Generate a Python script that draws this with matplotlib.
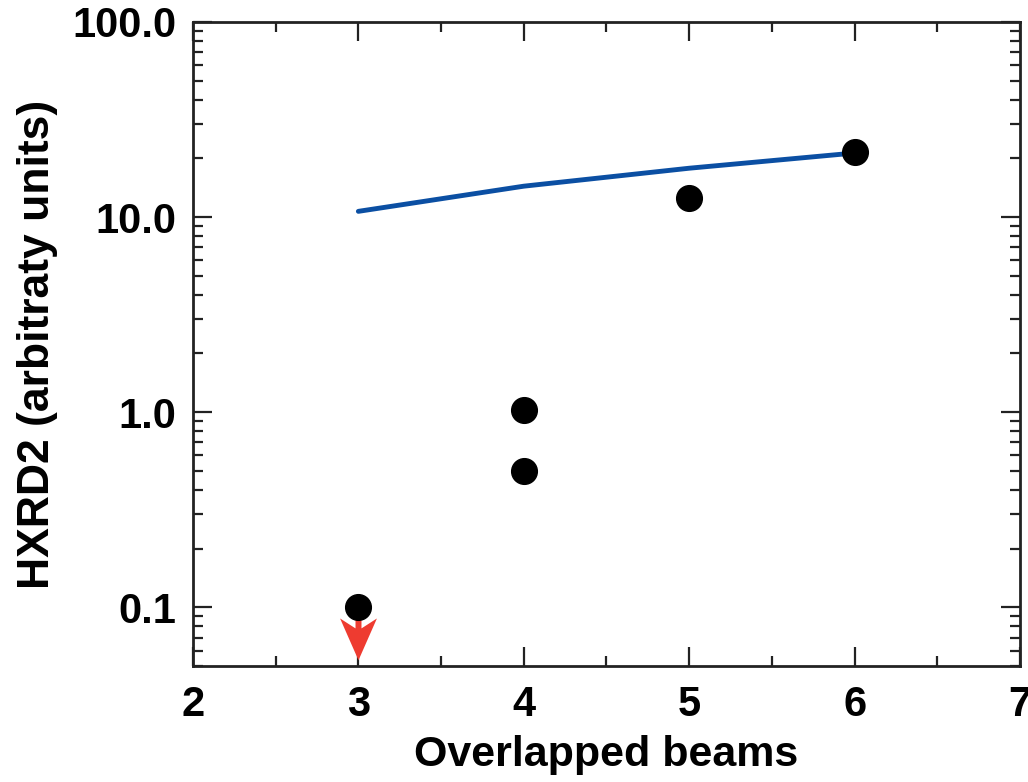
import numpy as np
import matplotlib
matplotlib.use('Agg')
import matplotlib.pyplot as plt
from matplotlib.path import Path
from matplotlib.ticker import LogLocator, FixedLocator, NullFormatter
from matplotlib import font_manager

names = {f.name for f in font_manager.fontManager.ttflist}
fam = 'Liberation Sans Narrow' if 'Liberation Sans Narrow' in names else 'Liberation Sans'
plt.rcParams['font.family'] = [fam, 'DejaVu Sans']
plt.rcParams['font.weight'] = 'bold'
fs = 36 if fam == 'Liberation Sans Narrow' else 30

# measured points
beams = [3, 4, 4, 5, 6]
hxrd2 = [0.1, 1.03, 0.5, 12.5, 21.5]

# model curve
model_beams = [3, 4, 5, 6]
model_hxrd2 = [10.7, 14.4, 17.8, 21.3]

# upper limit
limit_beams = [3]
limit_hxrd2 = [0.1]

# barbed down-arrow marker, origin at the top of the shaft
arrow = Path([(-3, 0), (3, 0), (3, -21), (18.5, -11), (0, -53),
              (-18.5, -11), (-3, -21), (-3, 0)],
             [Path.MOVETO] + [Path.LINETO] * 6 + [Path.CLOSEPOLY])

fig = plt.figure(figsize=(10.28, 7.82), dpi=100)
ax = fig.add_axes([0.1877, 0.1483, 0.8045, 0.8236])

ax.plot(model_beams, model_hxrd2, color='#0b4fa3', lw=3.5, solid_capstyle='round', zorder=2)
ax.plot(limit_beams, limit_hxrd2, linestyle='none', marker=arrow, markersize=76,
        color='#ee3b30', markeredgewidth=0, zorder=3)
ax.plot(beams, hxrd2, 'o', color='black', markersize=18.5, zorder=4)

ax.set_yscale('log')
ax.set_xlim(2, 7)
ax.set_ylim(0.05, 100)

ax.set_xticks([2, 3, 4, 5, 6, 7])
ax.xaxis.set_minor_locator(FixedLocator(np.arange(2.5, 7, 1.0)))
ax.yaxis.set_major_locator(FixedLocator([0.1, 1, 10, 100]))
ax.yaxis.set_minor_locator(LogLocator(base=10, subs=np.arange(2, 10)))
ax.yaxis.set_minor_formatter(NullFormatter())
ax.set_yticklabels(['0.1', '1.0', '10.0', '100.0'])

ax.tick_params(which='both', direction='in', top=True, right=True,
               color='#222222', labelsize=fs)
ax.tick_params(axis='x', pad=14)
ax.tick_params(axis='y', pad=12)
ax.tick_params(which='major', length=14, width=1.6)
ax.tick_params(which='minor', length=7, width=1.6)
for s in ax.spines.values():
    s.set_linewidth(2)
    s.set_color('#222222')

ax.set_xlabel('Overlapped beams', fontsize=fs + 1, fontweight='bold', labelpad=7)
ax.set_ylabel('HXRD2 (arbitraty units)', fontsize=fs + 2, fontweight='bold', labelpad=10)

fig.savefig('out.png', dpi=100)
